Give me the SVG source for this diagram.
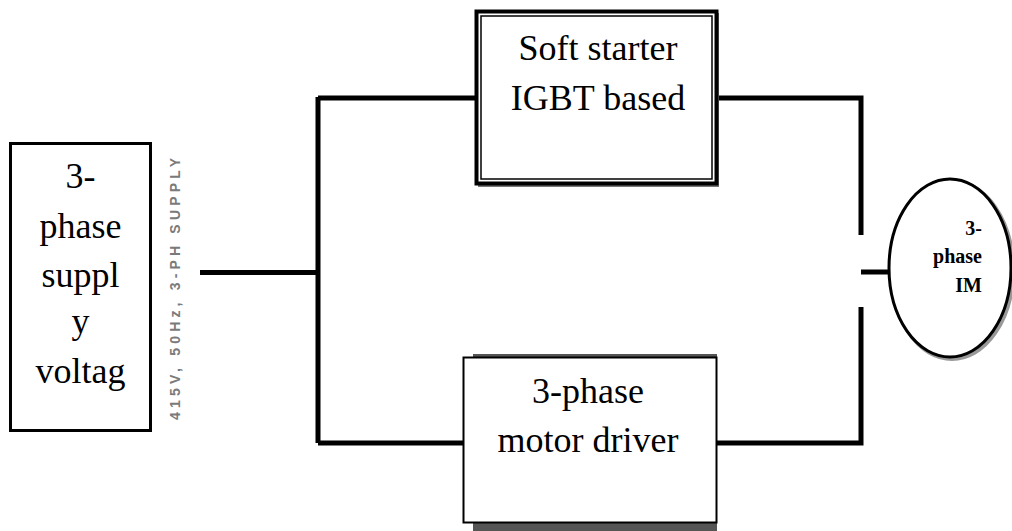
<svg xmlns="http://www.w3.org/2000/svg" width="1012" height="531" viewBox="0 0 1012 531">
<style>
.t{font-family:"Liberation Serif","Times New Roman",serif;font-size:36px;fill:#000;text-anchor:middle}
.b{font-family:"Liberation Serif","Times New Roman",serif;font-size:20px;font-weight:bold;fill:#000;text-anchor:end}
.w{stroke:#000;stroke-width:5;fill:none;stroke-linecap:butt}
.box{fill:#fff;stroke:#000}
</style>
<rect width="1012" height="531" fill="#fff"/>
<g id="connectors">
<path class="w" d="M200 272.5H318M318 97V443M318 98H476M318 443H463"/>
<path class="w" d="M717 98H861V235M717 443H861V307M861 272H889"/>
</g>
<g id="supply">
<rect class="box" x="10.5" y="143.5" width="140" height="287" stroke-width="3"/>
<text class="t" x="80.5" y="188">3-</text>
<text class="t" x="80.5" y="238">phase</text>
<text class="t" x="80.5" y="287">suppl</text>
<text class="t" x="80.5" y="333">y</text>
<text class="t" x="80.5" y="383">voltag</text>
</g>
<g id="supply-label">
<text x="0" y="0" transform="translate(180 289) rotate(-90)" font-family="Liberation Sans,Arial,sans-serif" font-size="14" font-weight="bold" fill="#7a7a7a" text-anchor="middle" textLength="262" lengthAdjust="spacing">415V, 50Hz, 3-PH SUPPLY</text>
</g>
<g id="soft-starter">
<rect x="478" y="13" width="241" height="174" fill="#777"/>
<rect class="box" x="476.5" y="11.5" width="240" height="172" stroke-width="4"/>
<rect x="481" y="16" width="231" height="163" fill="none" stroke="#000" stroke-width="1.5"/>
<text class="t" x="598" y="60">Soft starter</text>
<text class="t" x="598" y="110">IGBT based</text>
</g>
<g id="motor-driver">
<rect x="473" y="354" width="244" height="177" fill="#555"/>
<rect class="box" x="463.5" y="357.5" width="253" height="165" stroke-width="2"/>
<text class="t" x="588" y="403">3-phase</text>
<text class="t" x="588" y="452">motor driver</text>
</g>
<g id="motor">
<ellipse cx="952" cy="270" rx="61" ry="89" fill="none" stroke="#999" stroke-width="4"/>
<ellipse cx="950" cy="268" rx="61" ry="89" fill="#fff" stroke="#000" stroke-width="3"/>
<text class="b" x="982" y="235">3-</text>
<text class="b" x="982" y="263">phase</text>
<text class="b" x="982" y="292">IM</text>
</g>
</svg>
